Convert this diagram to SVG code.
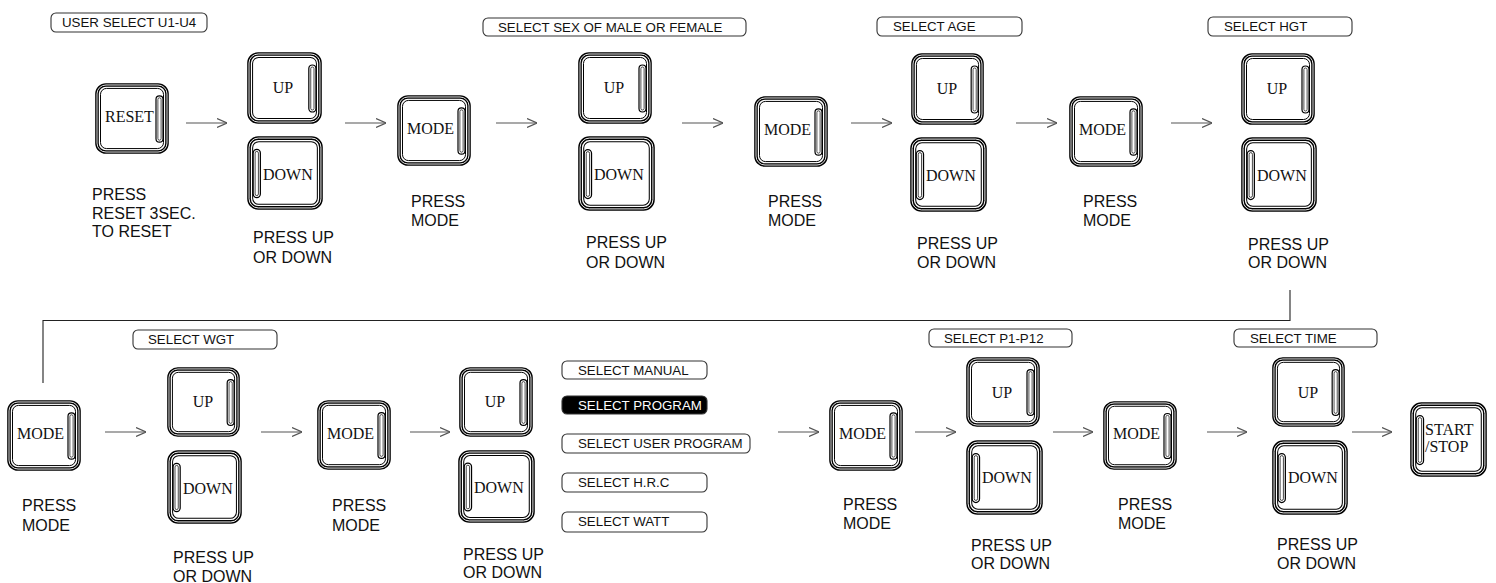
<svg xmlns="http://www.w3.org/2000/svg" xmlns:xlink="http://www.w3.org/1999/xlink" width="1496" height="583" viewBox="0 0 1496 583">
<style>
.lbl{font-family:"Liberation Sans",Arial,sans-serif;font-size:16px;fill:#111}
.tag{font-family:"Liberation Sans",Arial,sans-serif;font-size:13.3px;fill:#111}
.tagw{font-family:"Liberation Sans",Arial,sans-serif;font-size:13.3px;fill:#fff}
.tbox{fill:#fff;stroke:#333;stroke-width:1.1}
.tboxd{fill:#000;stroke:#333;stroke-width:1.1}
.bt{font-family:"Liberation Serif","Times New Roman",serif;font-size:16px;fill:#111}
.arr{stroke:#555;stroke-width:1.2;fill:none;marker-end:url(#ah)}
.conn{stroke:#222;stroke-width:1.1;fill:none}
</style>
<defs>
<marker id="ah" viewBox="0 0 10 10" refX="10" refY="5" markerWidth="10" markerHeight="10" markerUnits="userSpaceOnUse" orient="auto">
<path d="M0,0.5 L10,5 L0,9.5" fill="none" stroke="#555" stroke-width="1.2"/>
</marker>
<symbol id="btnR" viewBox="0 0 74 72" preserveAspectRatio="none">
<rect x="2" y="2" width="70" height="68" rx="9" fill="#fff" stroke="#000" stroke-width="3.6"/>
<rect x="2" y="2" width="70" height="68" rx="9" fill="none" stroke="#fff" stroke-width="0.9"/>
<rect x="5.5" y="5.5" width="63" height="61" rx="6" fill="none" stroke="#000" stroke-width="1"/>
<rect x="61" y="13" width="7" height="47" rx="3.5" fill="#fff" stroke="#000" stroke-width="1.2"/>
<rect x="62.9" y="15" width="3.2" height="43" rx="1.6" fill="none" stroke="#000" stroke-width="0.7"/>
</symbol>
<symbol id="btnL" viewBox="0 0 74 72" preserveAspectRatio="none">
<rect x="2" y="2" width="70" height="68" rx="9" fill="#fff" stroke="#000" stroke-width="3.6"/>
<rect x="2" y="2" width="70" height="68" rx="9" fill="none" stroke="#fff" stroke-width="0.9"/>
<rect x="5.5" y="5.5" width="63" height="61" rx="6" fill="none" stroke="#000" stroke-width="1"/>
<rect x="6" y="13" width="7" height="47" rx="3.5" fill="#fff" stroke="#000" stroke-width="1.2"/>
<rect x="7.9" y="15" width="3.2" height="43" rx="1.6" fill="none" stroke="#000" stroke-width="0.7"/>
</symbol>
</defs>
<rect width="1496" height="583" fill="#fff"/>

<g id="connectors">
<line class="arr" x1="186" y1="123" x2="227" y2="123"/>
<line class="arr" x1="345" y1="123" x2="386" y2="123"/>
<line class="arr" x1="496" y1="123" x2="537" y2="123"/>
<line class="arr" x1="682" y1="123" x2="723" y2="123"/>
<line class="arr" x1="851" y1="123" x2="892" y2="123"/>
<line class="arr" x1="1016" y1="123" x2="1057" y2="123"/>
<line class="arr" x1="1171" y1="123" x2="1212" y2="123"/>
<line class="arr" x1="105" y1="432" x2="146" y2="432"/>
<line class="arr" x1="261" y1="432" x2="302" y2="432"/>
<line class="arr" x1="410" y1="432" x2="450" y2="432"/>
<line class="arr" x1="778" y1="432" x2="819" y2="432"/>
<line class="arr" x1="915" y1="432" x2="956" y2="432"/>
<line class="arr" x1="1053" y1="432" x2="1093" y2="432"/>
<line class="arr" x1="1207" y1="432" x2="1247" y2="432"/>
<line class="arr" x1="1352" y1="432" x2="1392" y2="432"/>
<polyline class="conn" points="1290,290 1290,320.5 43,320.5 43,383"/>
</g>

<g id="tags">
<g id="tag-user"><rect class="tbox" x="51" y="13" width="156" height="19" rx="5"/><text class="tag" x="62" y="27">USER SELECT U1-U4</text></g>
<g id="tag-sex"><rect class="tbox" x="483" y="18" width="263" height="18" rx="5"/><text class="tag" x="498" y="32">SELECT SEX OF MALE OR FEMALE</text></g>
<g id="tag-age"><rect class="tbox" x="877" y="17" width="145" height="19" rx="5"/><text class="tag" x="893" y="31">SELECT AGE</text></g>
<g id="tag-hgt"><rect class="tbox" x="1208" y="17" width="144" height="19" rx="5"/><text class="tag" x="1224" y="31">SELECT HGT</text></g>
<g id="tag-wgt"><rect class="tbox" x="133" y="330" width="144" height="19" rx="5"/><text class="tag" x="148" y="344">SELECT WGT</text></g>
<g id="tag-manual"><rect class="tbox" x="562" y="361" width="145" height="18" rx="5"/><text class="tag" x="578" y="375">SELECT MANUAL</text></g>
<g id="tag-program"><rect class="tboxd" x="562" y="396" width="145" height="18" rx="5"/><text class="tagw" x="578" y="410">SELECT PROGRAM</text></g>
<g id="tag-userprog"><rect class="tbox" x="562" y="434" width="188" height="19" rx="5"/><text class="tag" x="578" y="448">SELECT USER PROGRAM</text></g>
<g id="tag-hrc"><rect class="tbox" x="562" y="473" width="145" height="19" rx="5"/><text class="tag" x="578" y="487">SELECT H.R.C</text></g>
<g id="tag-watt"><rect class="tbox" x="562" y="512" width="145" height="20" rx="5"/><text class="tag" x="578" y="526">SELECT WATT</text></g>
<g id="tag-p"><rect class="tbox" x="929" y="329" width="143" height="18" rx="5"/><text class="tag" x="944" y="343">SELECT P1-P12</text></g>
<g id="tag-time"><rect class="tbox" x="1234" y="329" width="143" height="18" rx="5"/><text class="tag" x="1250" y="343">SELECT TIME</text></g>
</g>

<g id="reset"><use xlink:href="#btnR" x="95" y="83" width="74" height="71"/><text class="bt" x="105" y="122">RESET</text>
<text class="lbl" x="92" y="200">PRESS</text><text class="lbl" x="92" y="218.5">RESET 3SEC.</text><text class="lbl" x="92" y="237">TO RESET</text></g>

<g id="updown1"><use xlink:href="#btnR" x="247" y="52" width="75" height="72"/><text class="bt" x="283" y="93" text-anchor="middle">UP</text>
<use xlink:href="#btnL" x="247" y="136" width="76" height="74"/><text class="bt" x="263" y="180">DOWN</text>
<text class="lbl" x="253" y="243">PRESS UP</text><text class="lbl" x="253" y="263">OR DOWN</text></g>

<g id="mode1"><use xlink:href="#btnR" x="397" y="95" width="74" height="71"/><text class="bt" x="407" y="134">MODE</text>
<text class="lbl" x="411" y="207">PRESS</text><text class="lbl" x="411" y="226">MODE</text></g>

<g id="updown2"><use xlink:href="#btnR" x="578" y="52" width="74" height="72"/><text class="bt" x="614" y="93" text-anchor="middle">UP</text>
<use xlink:href="#btnL" x="578" y="136" width="77" height="75"/><text class="bt" x="594" y="180">DOWN</text>
<text class="lbl" x="586" y="248">PRESS UP</text><text class="lbl" x="586" y="268">OR DOWN</text></g>

<g id="mode2"><use xlink:href="#btnR" x="754" y="96" width="74" height="71"/><text class="bt" x="764" y="135">MODE</text>
<text class="lbl" x="768" y="207">PRESS</text><text class="lbl" x="768" y="226">MODE</text></g>

<g id="updown3"><use xlink:href="#btnR" x="911" y="53" width="73" height="72"/><text class="bt" x="947" y="94" text-anchor="middle">UP</text>
<use xlink:href="#btnL" x="910" y="137" width="77" height="75"/><text class="bt" x="926" y="181">DOWN</text>
<text class="lbl" x="917" y="249">PRESS UP</text><text class="lbl" x="917" y="268">OR DOWN</text></g>

<g id="mode3"><use xlink:href="#btnR" x="1069" y="96" width="74" height="71"/><text class="bt" x="1079" y="135">MODE</text>
<text class="lbl" x="1083" y="207">PRESS</text><text class="lbl" x="1083" y="226">MODE</text></g>

<g id="updown4"><use xlink:href="#btnR" x="1241" y="53" width="74" height="72"/><text class="bt" x="1277" y="94" text-anchor="middle">UP</text>
<use xlink:href="#btnL" x="1241" y="137" width="76" height="75"/><text class="bt" x="1257" y="181">DOWN</text>
<text class="lbl" x="1248" y="250">PRESS UP</text><text class="lbl" x="1248" y="268">OR DOWN</text></g>

<g id="mode4"><use xlink:href="#btnR" x="7" y="400" width="74" height="71"/><text class="bt" x="17" y="439">MODE</text>
<text class="lbl" x="22" y="511">PRESS</text><text class="lbl" x="22" y="531">MODE</text></g>

<g id="updown5"><use xlink:href="#btnR" x="167" y="367" width="73" height="70"/><text class="bt" x="203" y="407" text-anchor="middle">UP</text>
<use xlink:href="#btnL" x="167" y="450" width="75" height="74"/><text class="bt" x="183" y="494">DOWN</text>
<text class="lbl" x="173" y="563">PRESS UP</text><text class="lbl" x="173" y="582">OR DOWN</text></g>

<g id="mode5"><use xlink:href="#btnR" x="317" y="400" width="74" height="70"/><text class="bt" x="327" y="439">MODE</text>
<text class="lbl" x="332" y="511">PRESS</text><text class="lbl" x="332" y="531">MODE</text></g>

<g id="updown6"><use xlink:href="#btnR" x="459" y="367" width="74" height="70"/><text class="bt" x="495" y="407" text-anchor="middle">UP</text>
<use xlink:href="#btnL" x="458" y="450" width="77" height="73"/><text class="bt" x="474" y="493">DOWN</text>
<text class="lbl" x="463" y="560">PRESS UP</text><text class="lbl" x="463" y="578">OR DOWN</text></g>

<g id="mode6"><use xlink:href="#btnR" x="829" y="400" width="74" height="71"/><text class="bt" x="839" y="439">MODE</text>
<text class="lbl" x="843" y="510">PRESS</text><text class="lbl" x="843" y="529">MODE</text></g>

<g id="updown7"><use xlink:href="#btnR" x="966" y="357" width="74" height="70"/><text class="bt" x="1002" y="398" text-anchor="middle">UP</text>
<use xlink:href="#btnL" x="966" y="440" width="77" height="75"/><text class="bt" x="982" y="483">DOWN</text>
<text class="lbl" x="971" y="551">PRESS UP</text><text class="lbl" x="971" y="569">OR DOWN</text></g>

<g id="mode7"><use xlink:href="#btnR" x="1103" y="401" width="74" height="69"/><text class="bt" x="1113" y="439">MODE</text>
<text class="lbl" x="1118" y="510">PRESS</text><text class="lbl" x="1118" y="529">MODE</text></g>

<g id="updown8"><use xlink:href="#btnR" x="1272" y="357" width="73" height="70"/><text class="bt" x="1308" y="398" text-anchor="middle">UP</text>
<use xlink:href="#btnL" x="1272" y="440" width="76" height="75"/><text class="bt" x="1288" y="483">DOWN</text>
<text class="lbl" x="1277" y="550">PRESS UP</text><text class="lbl" x="1277" y="569">OR DOWN</text></g>

<g id="startstop"><use xlink:href="#btnL" x="1410" y="402" width="77" height="75"/><text class="bt" x="1425" y="435">START</text><text class="bt" x="1425" y="452">/STOP</text></g>
</svg>
